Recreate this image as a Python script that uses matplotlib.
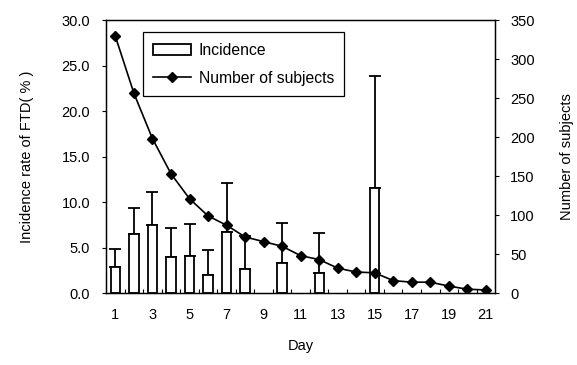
import matplotlib
matplotlib.use("Agg")
import matplotlib.pyplot as plt
import numpy as np

days = list(range(1, 22))
incidence = [2.9, 6.5, 7.5, 4.0, 4.1, 2.0, 6.7, 2.6, 0, 3.3, 0, 2.2, 0, 0, 11.6, 0, 0, 0, 0, 0, 0]
incidence_err = [2.0, 2.9, 3.6, 3.1, 3.5, 2.7, 5.4, 3.7, 0, 4.4, 0, 4.4, 0, 0, 12.2, 0, 0, 0, 0, 0, 0]
subjects = [329, 256, 198, 153, 121, 99, 87, 72, 66, 60, 48, 43, 32, 27, 26, 16, 14, 14, 9, 5, 4]
xtick_labels = [str(d) for d in range(1, 22, 2)]

plt.rcParams['font.family'] = ['Liberation Sans', 'Noto Sans CJK SC', 'DejaVu Sans']
fs = 10.5

fig = plt.figure(figsize=(5.77, 3.65), dpi=100)
ax = fig.add_axes([0.184, 0.197, 0.674, 0.748])

x = np.array(days)
inc = np.array(incidence)
err = np.array(incidence_err)
mask = inc > 0
bars = ax.bar(x[mask], inc[mask], width=0.5, facecolor='white', edgecolor='black',
              linewidth=1.3, label='Incidence', zorder=2)
ax.errorbar(x[mask], inc[mask], yerr=[np.zeros(mask.sum()), err[mask]], fmt='none',
            ecolor='black', elinewidth=1.3, capsize=4, capthick=1.3, zorder=1)

ax.set_xlim(0.5, 21.5)
ax.set_ylim(0, 30)
ax.set_yticks(np.arange(0, 31, 5))
ax.set_yticklabels([f"{v:.1f}" for v in np.arange(0, 31, 5)], fontsize=fs)
ax.set_xticks(range(1, 22, 2))
ax.set_xticklabels(xtick_labels, fontsize=fs)
ax.set_xticks(np.arange(1.5, 21.5, 1), minor=True)
ax.tick_params(axis='x', which='major', length=0, pad=11)
ax.tick_params(axis='x', which='minor', direction='in', length=3, width=0.8)
ax.tick_params(axis='y', direction='out', length=3, width=0.8, pad=8.5)
ax.set_ylabel('Incidence rate of FTD( % )', fontsize=fs, labelpad=20)
ax.set_xlabel('Day', fontsize=fs, labelpad=12)
for s in ax.spines.values():
    s.set_linewidth(1.0)

ax2 = ax.twinx()
line, = ax2.plot(x, subjects, color='black', linewidth=1.2, marker='D', markersize=5.5,
                 label='Number of subjects', zorder=3)
ax2.set_ylim(0, 350)
ax2.set_yticks(range(0, 351, 50))
ax2.set_yticklabels([str(v) for v in range(0, 351, 50)], fontsize=fs)
ax2.tick_params(axis='y', direction='out', length=3, width=0.8, pad=8)
ax2.set_ylabel('Number of subjects', fontsize=fs, labelpad=18)

leg = ax2.legend([bars, line], ['Incidence', 'Number of subjects'], loc='upper left',
                 bbox_to_anchor=(0.095, 0.955), fontsize=11.3, frameon=True, fancybox=False,
                 edgecolor='black', framealpha=1, handlelength=2.4, borderpad=0.65,
                 labelspacing=0.85, handletextpad=0.5, borderaxespad=0)
leg.get_frame().set_linewidth(0.9)

fig.savefig('out.png', dpi=100)
